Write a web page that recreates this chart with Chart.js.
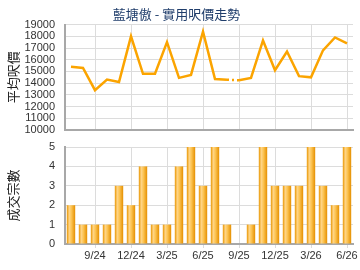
<!DOCTYPE html>
<html>
<head>
<meta charset="utf-8">
<script src="https://cdn.jsdelivr.net/npm/chart.js@4/dist/chart.umd.min.js"></script>
<style>
  body { margin: 0; background: #fff; }
  canvas { display: block; }
</style>
</head>
<body>
<canvas id="priceChart" width="360" height="135"></canvas>
<canvas id="dealChart" width="360" height="135"></canvas>
<script>
// 月份 (7/24 - 6/26)
const months = ['7/24','8/24','9/24','10/24','11/24','12/24','1/25','2/25','3/25','4/25','5/25','6/25',
                '7/25','8/25','9/25','10/25','11/25','12/25','1/26','2/26','3/26','4/26','5/26','6/26'];
// 平均呎價
const avgPrice = [15400,15300,13400,14300,14100,18000,14800,14800,17500,14450,14700,18400,
                  14350,14300,14250,14450,17650,15100,16700,14600,14500,16800,17900,17400];
// 成交宗數
const deals = [2,1,1,1,3,2,4,1,1,4,5,3,5,1,0,1,5,3,3,3,5,3,2,5];

const titleText = '藍塘傲 - 實用呎價走勢';
const fontFamily = '"Liberation Sans", Arial, sans-serif';
const cjkFamily = '"Noto Sans CJK TC", sans-serif';

Chart.defaults.font.family = fontFamily;
Chart.defaults.color = '#333';
Chart.defaults.animation = false;

const gridColor = '#dcdcdc';
const axisColor = '#a8a8a8';

// 每3個月一條直線
const xGrid = ctx => (ctx.index % 3 === 2 ? gridColor : 'rgba(0,0,0,0)');
const fixWidth = scale => { scale.width = 65; };

// y軸：用透明刻度代替 ticks.padding（padding 會把繪圖區縮小）
const yGrid = { color: gridColor, drawTicks: true, tickLength: 10, tickColor: 'rgba(0,0,0,0)' };

// 上圖：平均呎價
new Chart(document.getElementById('priceChart'), {
  type: 'line',
  data: {
    labels: months,
    datasets: [{
      data: avgPrice,
      borderColor: '#fba400',
      borderWidth: 2.5,
      pointRadius: 0,
      tension: 0,
      segment: {
        borderDash: ctx => (deals[ctx.p1DataIndex] === 0 ? [2, 3] : undefined)
      }
    }]
  },
  options: {
    responsive: false,
    layout: { padding: { right: 7, bottom: 0 } },
    plugins: {
      legend: { display: false },
      tooltip: { enabled: false },
      title: {
        display: true,
        text: titleText,
        color: '#1f3d6b',
        font: { family: cjkFamily, size: 13, weight: 'normal' },
        padding: { top: 6, bottom: 3 }
      }
    },
    scales: {
      x: {
        offset: true,
        grid: { offset: false, color: xGrid, drawTicks: false },
        border: { color: axisColor, width: 2 },
        ticks: { display: false },
        afterFit: s => { s.height = 5; }
      },
      y: {
        min: 10000,
        max: 19000,
        grid: yGrid,
        border: { color: axisColor, width: 2 },
        ticks: { stepSize: 1000, autoSkip: false, padding: 0, font: { size: 11, lineHeight: 0.9 }, callback: v => String(v) },
        title: {
          display: true,
          text: '平均呎價',
          color: '#222',
          font: { family: cjkFamily, size: 13 },
          padding: { top: 5, bottom: 0 }
        },
        afterFit: fixWidth
      }
    }
  }
});

// 柱的漸變色
function barFill(ctx) {
  const solid = '#f7b52c';
  if (ctx.type !== 'data') return solid;
  const chart = ctx.chart;
  const x = chart.scales.x ? chart.scales.x.getPixelForValue(ctx.dataIndex) : NaN;
  if (!isFinite(x)) return solid;
  const g = chart.ctx.createLinearGradient(x - 4.2, 0, x + 4.2, 0);
  g.addColorStop(0, '#e99600');
  g.addColorStop(0.3, '#ffd587');
  g.addColorStop(0.55, '#fcc453');
  g.addColorStop(1, '#e58f00');
  return g;
}

// 下圖：成交宗數
new Chart(document.getElementById('dealChart'), {
  type: 'bar',
  data: {
    labels: months,
    datasets: [{
      data: deals,
      backgroundColor: barFill,
      borderWidth: 0,
      barPercentage: 0.7,
      categoryPercentage: 1
    }]
  },
  options: {
    responsive: false,
    layout: { padding: { top: 12, right: 7 } },
    plugins: {
      legend: { display: false },
      tooltip: { enabled: false }
    },
    scales: {
      x: {
        offset: true,
        grid: { offset: false, color: xGrid, tickLength: 4 },
        border: { color: axisColor, width: 2 },
        ticks: {
          autoSkip: false,
          maxRotation: 0,
          padding: 1,
          font: { size: 11 },
          callback: (v, i) => (i % 3 === 2 ? months[i] : '')
        },
        afterFit: s => { s.height = 26; }
      },
      y: {
        min: 0,
        max: 5,
        grid: yGrid,
        border: { color: axisColor, width: 2 },
        ticks: { stepSize: 1, padding: 0, font: { size: 11 } },
        title: {
          display: true,
          text: '成交宗數',
          color: '#222',
          font: { family: cjkFamily, size: 13 },
          padding: { top: 5, bottom: 0 }
        },
        afterFit: fixWidth
      }
    }
  }
});
</script>
</body>
</html>
